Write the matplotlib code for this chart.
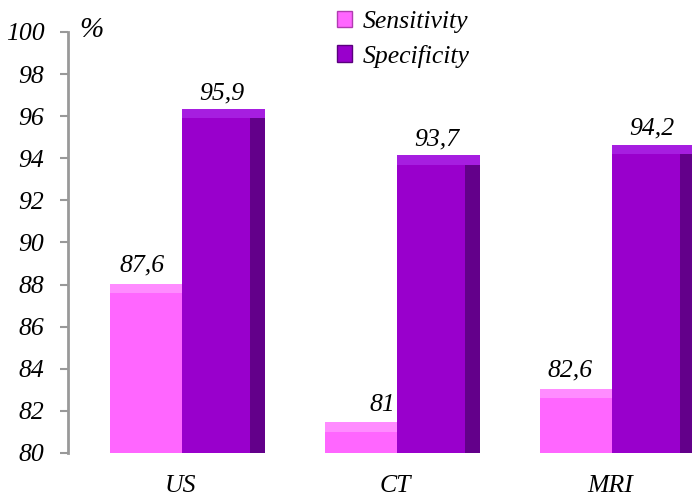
import matplotlib.pyplot as plt
from matplotlib.patches import Patch

plt.rcParams['font.family'] = ['Liberation Serif', 'DejaVu Serif']

categories = ["US", "CT", "MRI"]
sensitivity = [87.6, 81, 82.6]
specificity = [95.9, 93.7, 94.2]
sens_labels = ["87,6", "81", "82,6"]
spec_labels = ["95,9", "93,7", "94,2"]
yticks = [80, 82, 84, 86, 88, 90, 92, 94, 96, 98, 100]

sens_front, sens_side, sens_top = "#ff66ff", "#d94fd9", "#ff8cff"
spec_front, spec_side, spec_top = "#9900cc", "#63008a", "#a61ee0"

fig = plt.figure(figsize=(6.92, 4.96), dpi=100)
ax = fig.add_axes([0.0983, 0.0867, 0.9017, 0.8488])

x = list(range(len(categories)))
base = 80

# sensitivity bars (front + top cap)
sx = [i - 0.349 for i in x]
ax.bar(sx, [v - base for v in sensitivity], width=0.335, bottom=base,
       align='edge', color=sens_front, zorder=2)
ax.bar(sx, [0.45] * 3, width=0.335, bottom=sensitivity,
       align='edge', color=sens_top, zorder=2)

# specificity bars (front + side + top cap)
px = [i - 0.014 for i in x]
ax.bar([p + 0.316 for p in px], [v - base + 0.3 for v in specificity], width=0.07,
       bottom=base, align='edge', color=spec_side, zorder=2)
ax.bar(px, [v - base for v in specificity], width=0.316, bottom=base,
       align='edge', color=spec_front, zorder=3)
ax.bar(px, [0.45] * 3, width=0.386, bottom=specificity,
       align='edge', color=spec_top, zorder=3)

# label x shifts (the CT one sits further right in the original)
sens_dx = [-0.2, -0.08, -0.21]
for i in x:
    ax.text(i + sens_dx[i], sensitivity[i] + 1.3, sens_labels[i], ha='center',
            va='center', fontsize=18.5, style='italic')
    ax.text(i + 0.17, specificity[i] + 1.2, spec_labels[i], ha='center',
            va='center', fontsize=18.5, style='italic')

ax.set_xlim(-0.544, 2.358)
ax.set_ylim(80, 100)
ax.set_yticks(yticks)
ax.set_yticklabels([str(t) for t in yticks], fontsize=18.5, style='italic')
ax.set_xticks([i - 0.02 for i in x])
ax.set_xticklabels(categories, fontsize=18.5, style='italic')
ax.tick_params(axis='x', length=0, pad=16)
ax.tick_params(axis='y', length=6, width=1.5, color='#999999', pad=11)

for s in ['top', 'right', 'bottom']:
    ax.spines[s].set_visible(False)
ax.spines['left'].set_color('#999999')
ax.spines['left'].set_linewidth(2)

fig.text(0.115, 0.94, "%", fontsize=21, style='italic', ha='left', va='center')

handles = [Patch(facecolor=sens_front, edgecolor='#b03cb0'),
           Patch(facecolor=spec_front, edgecolor='#5a007d')]
fig.legend(handles, ["Sensitivity", "Specificity"], loc='upper left',
           bbox_to_anchor=(0.453, 1.025), frameon=False,
           prop={'style': 'italic', 'size': 18.5}, handlelength=0.6, handleheight=0.6,
           handletextpad=0.4, labelspacing=0.45)

fig.savefig("out.png", dpi=100)
